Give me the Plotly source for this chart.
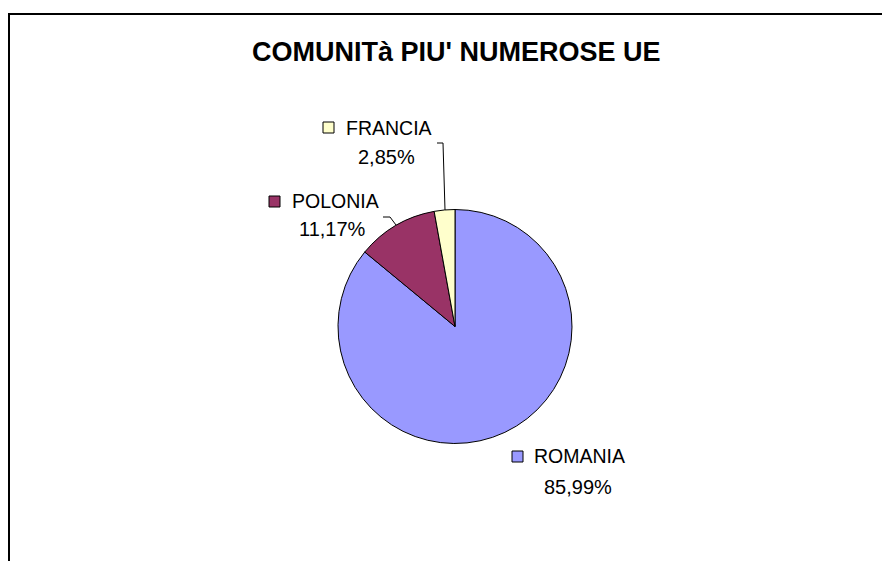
import plotly.graph_objects as go

categories = ["ROMANIA", "POLONIA", "FRANCIA"]
values = [85.99, 11.17, 2.85]
colors = ["#9999FF", "#993366", "#FFFFCC"]
title_text = "COMUNITà PIU' NUMEROSE UE"

# page body has an 8px margin; the figure is drawn from (8, 8)
OFF = 8
W, H = 890 - OFF, 561 - OFF


def px(x):
    return (x - OFF) / W


def py(y):
    return 1 - (y - OFF) / H


def pct(v):
    return f"{v:.2f}".replace(".", ",") + "%"


cx, cy, r = 455, 326.5, 117
fig = go.Figure(go.Pie(
    labels=categories,
    values=values,
    sort=False,
    direction="clockwise",
    rotation=0,
    marker=dict(colors=colors, line=dict(color="black", width=1)),
    textinfo="none",
    hoverinfo="label+percent",
    showlegend=False,
    domain=dict(x=[px(cx - r), px(cx + r)], y=[py(cy + r), py(cy - r)]),
))

# label layout: (square left, square top, name left, name y, pct center x, pct y)
label_pos = {
    "FRANCIA": (323, 122, 344, 128, 386, 157),
    "POLONIA": (269, 196, 290, 201, 332, 229),
    "ROMANIA": (512, 451, 532, 456, 578, 487),
}
leaders = {
    "FRANCIA": [(437, 143), (443, 143), (445, 210)],
    "POLONIA": [(383, 217), (390, 217), (396, 225)],
}

FONT = "Liberation Sans, Arial"
annotations = [dict(
    text=f"<b>{title_text}</b>", x=px(455.5), y=py(52), xref="paper", yref="paper",
    xanchor="center", yanchor="middle", showarrow=False,
    font=dict(family=FONT, size=27, color="black"))]
shapes = [
    dict(type="path", xref="paper", yref="paper",
         path=f"M {px(9)} {py(570)} L {px(9)} {py(14)} L {px(900)} {py(14)}",
         line=dict(color="black", width=2)),
]
for cat, val, col in zip(categories, values, colors):
    sx, sy, tx, ty, pcx, pcy = label_pos[cat]
    shapes.append(dict(type="rect", xref="paper", yref="paper",
                       x0=px(sx), x1=px(sx + 11), y0=py(sy + 11), y1=py(sy),
                       fillcolor=col, line=dict(color="black", width=1)))
    annotations.append(dict(text=cat, x=px(tx), y=py(ty), xref="paper", yref="paper",
                            xanchor="left", yanchor="middle", showarrow=False,
                            font=dict(family=FONT, size=19.5, color="black")))
    annotations.append(dict(text=pct(val), x=px(pcx), y=py(pcy), xref="paper", yref="paper",
                            xanchor="center", yanchor="middle", showarrow=False,
                            font=dict(family=FONT, size=20, color="black")))
    if cat in leaders:
        pts = leaders[cat]
        path = "M " + " L ".join(f"{px(a)} {py(b)}" for a, b in pts)
        shapes.append(dict(type="path", xref="paper", yref="paper", path=path,
                           line=dict(color="black", width=1)))

fig.update_layout(
    width=W, height=H,
    margin=dict(l=0, r=0, t=0, b=0),
    paper_bgcolor="white", plot_bgcolor="white",
    annotations=annotations, shapes=shapes,
)
fig.write_html("out.html")
